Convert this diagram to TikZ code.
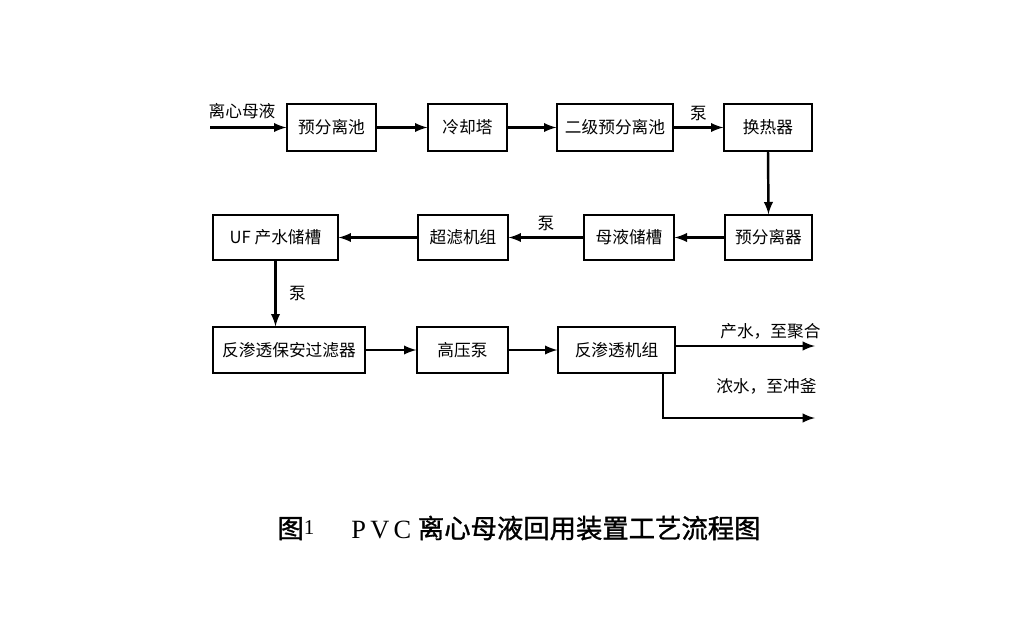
\documentclass[tikz,border=0pt]{standalone}
\usepackage{fontspec}
\setmainfont{Liberation Serif}
\newfontfamily\cjk{Noto Sans CJK SC}
\newfontfamily\cjkbold{Noto Sans CJK SC}[FakeBold=1.2]
\usepackage{tikz}
\usetikzlibrary{arrows}
\tikzset{
  unit/.style={draw, line width=0.8pt, inner sep=0pt, minimum height=0.94cm, font=\cjk\fontsize{9.5}{10}\selectfont},
  flow/.style={black, line width=1.4pt, -latex},
  tag/.style={inner sep=1pt, font=\cjk\fontsize{9.5}{10}\selectfont}
}

\begin{document}
\begin{tikzpicture}[x=0.02cm, y=-0.02cm]
\useasboundingbox (0,0) rectangle (1024,625);
% first row
\node[unit, minimum width=1.78cm] (yfc) at (331.5,127.5) {预分离池};
\node[unit, minimum width=1.58cm] (lqt) at (467.5,127.5) {冷却塔};
\node[unit, minimum width=2.32cm] (ejc) at (615,127.5) {二级预分离池};
\node[unit, minimum width=1.76cm] (hrq) at (768,127.5) {换热器};
% second row
\node[unit, minimum width=1.74cm, minimum height=0.9cm] (yfq) at (768.5,237.5) {预分离器};
\node[unit, minimum width=1.80cm, minimum height=0.9cm] (myc) at (629,237.5) {母液储槽};
\node[unit, minimum width=1.80cm, minimum height=0.9cm] (clj) at (463,237.5) {超滤机组};
\node[unit, minimum width=2.50cm, minimum height=0.9cm] (ufc) at (275.5,237.5) {UF 产水储槽};
% third row
\node[unit, minimum width=3.04cm, minimum height=0.92cm] (bag) at (289,350) {反渗透保安过滤器};
\node[unit, minimum width=1.82cm, minimum height=0.92cm] (gyb) at (462.5,350) {高压泵};
\node[unit, minimum width=2.34cm, minimum height=0.92cm] (fst) at (616.5,350) {反渗透机组};
\coordinate (src) at (210,127.5);
\coordinate (cpo) at (815,346);
\coordinate (nsd) at (663,418);
\coordinate (nse) at (815,418);

\draw[flow] (src) -- node[tag, above, pos=0.42, yshift=3pt] {离心母液} (yfc);
\draw[flow] (yfc) -- (lqt);
\draw[flow] (lqt) -- (ejc);
\draw[flow] (ejc) -- node[tag, above, yshift=2pt] {泵} (hrq);
\draw[flow] (hrq.south) -- (yfq.north);
\draw[flow] (yfq) -- (myc);
\draw[flow] (myc) -- node[tag, above, yshift=2pt] {泵} (clj);
\draw[flow] (clj) -- (ufc);
\draw[flow] (ufc.south) -- node[tag, right, xshift=6pt] {泵} (bag.north -| ufc.south);
\draw[flow] (bag) -- (gyb);
\draw[flow] (gyb) -- (fst);
\draw[flow] (fst.east |- cpo) -- node[tag, above, pos=0.68, yshift=2pt] {产水，至聚合} (cpo);
\draw[flow] (fst.south -| nsd) |- node[tag, above, pos=0.84, yshift=12pt] {浓水，至冲釜} (nse);

\node[font=\fontsize{15}{18}\selectfont] (cap) at (519,528)
  {{\cjkbold 图}\raisebox{2pt}{\fontsize{12}{14}\selectfont 1}\hspace{1.4em}P\,V\,C {\cjkbold 离心母液回用装置工艺流程图}};
\end{tikzpicture}
\end{document}
